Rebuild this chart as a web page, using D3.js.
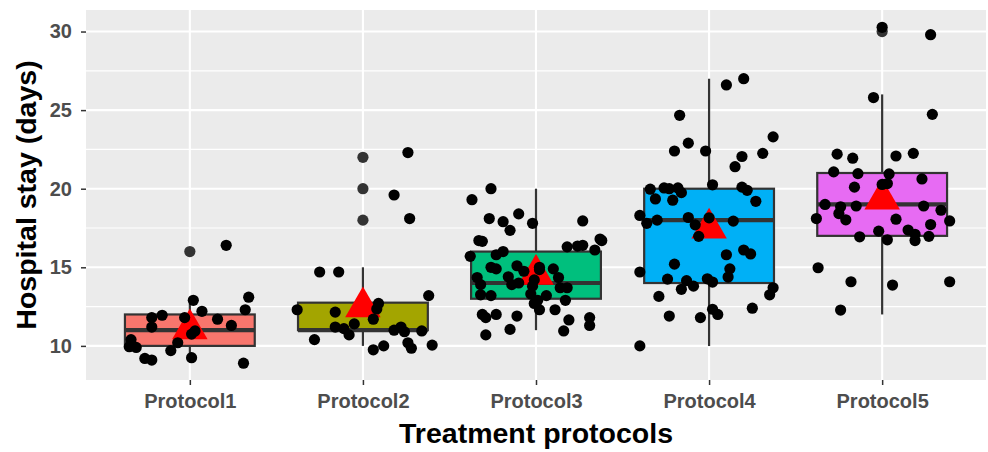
<!DOCTYPE html>
<html>
<head>
<meta charset="utf-8">
<script src="https://cdn.jsdelivr.net/npm/d3@7"></script>
<style>
  body { margin: 0; background: #fff; }
  svg { display: block; font-family: "Liberation Sans", Arial, sans-serif; }
</style>
</head>
<body>
<script>
// categories and box colours
var protocols = ["Protocol1", "Protocol2", "Protocol3", "Protocol4", "Protocol5"];
var fills = ["#F8766D", "#A3A500", "#00BF7D", "#00B0F6", "#E76BF3"];

// box statistics: [lowWhisker, q1, median, q3, highWhisker]
var boxStats = [
  [9, 10, 11, 12, 13],
  [10, 11, 11, 12.75, 15],
  [11, 13, 14, 16, 20],
  [10, 14, 18, 20, 27],
  [12, 17, 19, 21, 26]
];
var outliers = [[16], [18, 20, 22], [], [], [30]];
var means = [11.08, 12.48, 14.55, 17.49, 19.33];

var yTicks = [10, 15, 20, 25, 30];
var yMinor = [12.5, 17.5, 22.5, 27.5];

// jittered points: [jitter offset in category units, value]
var jit1 = [[0.21,16.4],[0.02,12.9],[0.34,13.1],[0.32,12.3],[0.07,12.2],[-0.16,11.95],[-0.22,11.8],[-0.03,11.8],[0.16,11.7],[0.24,11.3],[-0.22,11.2],[0.03,10.95],[0.01,10.75],[-0.07,10.2],[-0.34,10.4],[-0.35,9.95],[-0.31,9.9],[-0.11,9.7],[-0.26,9.2],[-0.22,9.1],[0.01,9.25],[0.31,8.9]];
var jit2 = [[0.26,22.3],[0.18,19.6],[0.27,18.1],[-0.25,14.7],[-0.14,14.7],[0.38,13.2],[-0.38,12.3],[0.09,12.7],[0.08,12.35],[-0.16,12.15],[0.06,11.7],[-0.05,11.4],[-0.16,11.2],[-0.11,11.1],[-0.08,10.7],[0.18,11.0],[0.22,11.2],[0.24,10.9],[0.34,10.95],[-0.28,10.4],[0.06,9.75],[0.12,10.0],[0.26,10.2],[0.28,9.85],[0.40,10.05]];
var jit3 = [[-0.26,20.0],[-0.37,19.3],[-0.27,18.1],[-0.19,17.9],[-0.10,18.4],[-0.02,17.8],[-0.15,17.35],[0.27,17.95],[-0.33,16.7],[-0.31,16.65],[0.37,16.8],[0.38,16.7],[0.34,16.1],[0.18,16.3],[0.24,16.35],[0.27,16.4],[-0.38,15.7],[-0.23,15.8],[-0.19,16.0],[-0.26,15.0],[-0.23,14.9],[-0.11,15.1],[-0.07,14.75],[0.02,15.0],[0.02,14.85],[0.10,14.9],[-0.34,14.35],[-0.32,13.9],[-0.32,13.25],[-0.26,13.2],[-0.16,14.4],[-0.14,13.9],[-0.10,14.0],[-0.01,14.2],[-0.02,13.8],[0.13,14.35],[0.14,13.7],[0.18,13.7],[-0.03,13.3],[0.01,12.9],[-0.01,12.7],[0.06,13.2],[0.17,12.9],[0.02,12.3],[0.11,12.3],[-0.31,12.0],[-0.29,11.8],[-0.23,12.0],[-0.11,11.9],[0.19,11.65],[0.31,11.8],[0.31,11.3],[-0.15,11.05],[0.16,10.95],[-0.29,10.7]];
var jit4 = [[0.20,27.0],[0.10,26.6],[-0.17,24.67],[0.37,23.3],[-0.12,22.9],[-0.20,22.4],[-0.02,22.4],[0.31,22.25],[0.19,22.05],[0.15,21.4],[0.02,20.25],[-0.34,19.97],[-0.26,20.05],[-0.23,20.0],[-0.18,20.05],[-0.16,19.75],[0.19,20.1],[0.22,19.9],[-0.31,19.35],[-0.21,19.27],[0.27,19.2],[-0.40,18.3],[-0.36,17.8],[-0.30,18.0],[-0.12,18.17],[-0.08,17.7],[0.00,18.15],[0.14,17.94],[-0.06,16.97],[0.10,15.8],[0.20,16.1],[0.24,15.85],[-0.20,15.2],[-0.40,14.7],[0.12,14.9],[0.11,14.38],[-0.24,14.25],[-0.13,14.15],[-0.16,13.6],[-0.09,13.8],[-0.01,14.27],[0.02,14.06],[0.37,13.7],[0.35,13.25],[-0.29,13.15],[-0.23,11.9],[-0.05,11.8],[0.02,12.33],[0.05,12.0],[0.25,12.4],[-0.40,10.0]];
var jit5 = [[0.00,30.27],[0.28,29.8],[-0.05,25.8],[0.29,24.73],[-0.26,22.2],[-0.17,21.94],[0.08,22.08],[0.18,22.25],[-0.28,21.07],[-0.14,20.96],[0.04,20.94],[0.23,20.62],[-0.16,20.1],[0.00,20.27],[0.03,20.33],[-0.33,19.0],[-0.24,18.85],[-0.15,18.9],[-0.25,18.42],[-0.21,18.02],[-0.38,18.1],[0.24,18.9],[0.34,18.63],[0.39,17.95],[0.08,18.06],[0.28,17.72],[0.15,17.37],[0.19,17.1],[0.19,16.7],[0.27,16.97],[-0.02,17.3],[0.03,16.75],[-0.13,16.94],[-0.37,14.97],[-0.18,14.08],[0.06,13.87],[0.39,14.08],[-0.24,12.28]];
var jitter = [jit1, jit2, jit3, jit4, jit5];

var width = 988, height = 452;
var margin = {top: 10, right: 2, bottom: 72, left: 86};
var pw = width - margin.left - margin.right;
var ph = height - margin.top - margin.bottom;

var svg = d3.select("body").append("svg")
    .attr("width", width)
    .attr("height", height);

var g = svg.append("g")
    .attr("transform", "translate(" + margin.left + "," + margin.top + ")");

// discrete axis as linear over category index, with ggplot's 0.6 expansion
var x = d3.scaleLinear().domain([-0.6, protocols.length - 0.4]).range([0, pw]);
var yLo = 8.9, yHi = 30.3, pad = (yHi - yLo) * 0.05;
var y = d3.scaleLinear().domain([yLo - pad, yHi + pad]).range([ph, 0]);
var unit = x(1) - x(0);

// panel
g.append("rect").attr("width", pw).attr("height", ph).attr("fill", "#EBEBEB");

g.selectAll("line.minor").data(yMinor).enter().append("line")
    .attr("x1", 0).attr("x2", pw)
    .attr("y1", function (d) { return y(d); }).attr("y2", function (d) { return y(d); })
    .style("stroke", "#fff").style("stroke-width", 1.1);

g.selectAll("line.major").data(yTicks).enter().append("line")
    .attr("x1", 0).attr("x2", pw)
    .attr("y1", function (d) { return y(d); }).attr("y2", function (d) { return y(d); })
    .style("stroke", "#fff").style("stroke-width", 2.1);

g.selectAll("line.vgrid").data(protocols).enter().append("line")
    .attr("x1", function (d, i) { return x(i); }).attr("x2", function (d, i) { return x(i); })
    .attr("y1", 0).attr("y2", ph)
    .style("stroke", "#fff").style("stroke-width", 2.1);

// boxplots
var boxW = 0.75 * unit;
var boxes = g.selectAll("g.box").data(boxStats).enter().append("g").attr("class", "box");

boxes.append("line")
    .attr("x1", function (d, i) { return x(i); }).attr("x2", function (d, i) { return x(i); })
    .attr("y1", function (d) { return y(d[0]); }).attr("y2", function (d) { return y(d[4]); })
    .style("stroke", "#333").style("stroke-width", 2.2);

boxes.append("rect")
    .attr("x", function (d, i) { return x(i) - boxW / 2; })
    .attr("width", boxW)
    .attr("y", function (d) { return y(d[3]); })
    .attr("height", function (d) { return y(d[1]) - y(d[3]); })
    .style("fill", function (d, i) { return fills[i]; })
    .style("stroke", "#333").style("stroke-width", 2.2);

boxes.append("line")
    .attr("x1", function (d, i) { return x(i) - boxW / 2; }).attr("x2", function (d, i) { return x(i) + boxW / 2; })
    .attr("y1", function (d) { return y(d[2]); }).attr("y2", function (d) { return y(d[2]); })
    .style("stroke", "#333").style("stroke-width", 4.2);

// outliers
outliers.forEach(function (arr, i) {
  g.selectAll(null).data(arr).enter().append("circle")
      .attr("cx", x(i)).attr("cy", function (d) { return y(d); })
      .attr("r", 5.6).style("fill", "#333");
});

// mean triangles (R pch 17 geometry: apex r above, base r/2 below)
var tr = 20.5;
g.selectAll("path.mean").data(means).enter().append("path")
    .attr("d", function (d, i) {
      var cx = x(i), cy = y(d), hw = tr * Math.sqrt(3) / 2;
      return "M" + cx + "," + (cy - tr) + "L" + (cx + hw) + "," + (cy + tr / 2) + "L" + (cx - hw) + "," + (cy + tr / 2) + "Z";
    })
    .style("fill", "red");

// jittered points
jitter.forEach(function (arr, i) {
  g.selectAll(null).data(arr).enter().append("circle")
      .attr("cx", function (d) { return x(i + d[0]); })
      .attr("cy", function (d) { return y(d[1]); })
      .attr("r", 5.6).style("fill", "black");
});

// axes
var yAxis = g.append("g")
    .call(d3.axisLeft(y).tickValues(yTicks).tickSize(5).tickPadding(9));
var xAxis = g.append("g")
    .attr("transform", "translate(0," + ph + ")")
    .call(d3.axisBottom(x).tickValues(d3.range(protocols.length))
      .tickFormat(function (d) { return protocols[d]; }).tickSize(5).tickPadding(7));

[yAxis, xAxis].forEach(function (a) {
  a.select(".domain").remove();
  a.selectAll(".tick line").style("stroke", "#333").style("stroke-width", 1.5);
  a.selectAll(".tick text")
      .style("fill", "#4D4D4D").style("font-size", "20px").style("font-weight", "bold");
});
xAxis.selectAll(".tick text").attr("dy", "0.8em");

// axis titles
svg.append("text")
    .attr("x", margin.left + pw / 2).attr("y", 443)
    .attr("text-anchor", "middle")
    .style("font-size", "28.5px").style("font-weight", "bold").style("fill", "#000")
    .text("Treatment protocols");

svg.append("text")
    .attr("transform", "translate(35.5," + (margin.top + ph / 2) + ") rotate(-90)")
    .attr("text-anchor", "middle")
    .style("font-size", "28.5px").style("font-weight", "bold").style("fill", "#000")
    .text("Hospital stay (days)");
</script>
</body>
</html>
